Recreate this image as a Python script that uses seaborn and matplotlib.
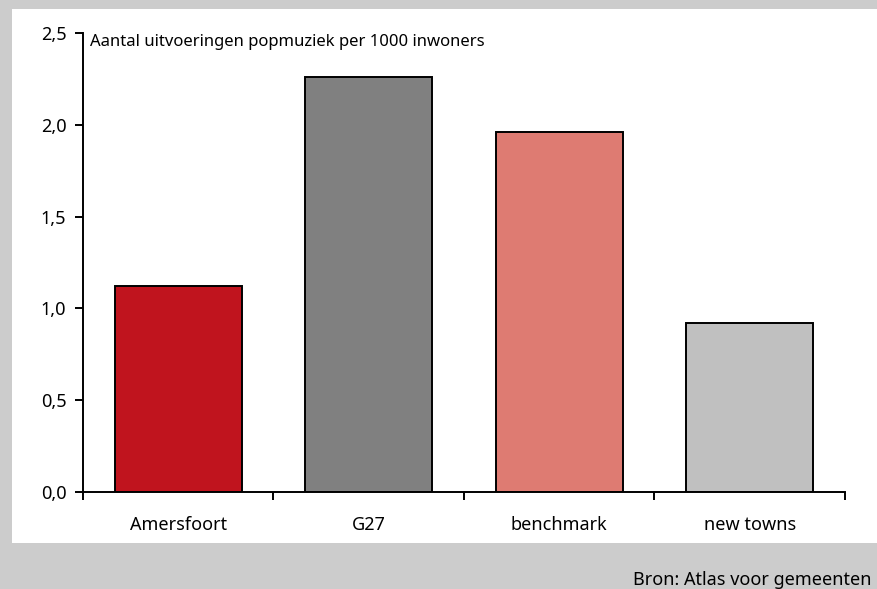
import matplotlib
matplotlib.use("Agg")
import matplotlib.pyplot as plt
import matplotlib.patches as mpatches
from matplotlib.ticker import FixedLocator, FuncFormatter
import pandas as pd
import seaborn as sns

categories = ["Amersfoort", "G27", "benchmark", "new towns"]
values = [1.12, 2.26, 1.96, 0.92]
colours = ["#c0141e", "#808080", "#de7b72", "#c0c0c0"]
title = "Aantal uitvoeringen popmuziek per 1000 inwoners"
source = "Bron: Atlas voor gemeenten"

sns.set_style("white")
plt.rcParams["font.family"] = ["Noto Sans", "DejaVu Sans"]

df = pd.DataFrame({"cat": categories, "val": values})

fig = plt.figure(figsize=(8.78, 5.89), dpi=100, facecolor="#cccccc")
# white panel on grey frame
fig.patches.append(mpatches.Rectangle((12 / 878, 46 / 589), 1, (580 - 46) / 589,
                                      transform=fig.transFigure, facecolor="white",
                                      edgecolor="none", zorder=-10))
ax = fig.add_axes([83 / 878, 97 / 589, 762 / 878, 459 / 589])
ax.set_facecolor("none")

sns.barplot(data=df, x="cat", y="val", hue="cat", palette=colours, legend=False,
            saturation=1, width=0.667, edgecolor="black", linewidth=1.4, ax=ax)

ax.set_xlim(-0.5, 3.5)
ax.set_ylim(0, 2.5)
ax.set_xlabel(None)
ax.set_ylabel(None)
for s in ["top", "right"]:
    ax.spines[s].set_visible(False)
for s in ["left", "bottom"]:
    ax.spines[s].set_color("black")
    ax.spines[s].set_linewidth(1.4)

ax.xaxis.set_major_locator(FixedLocator([-0.5, 0.5, 1.5, 2.5, 3.5]))
ax.xaxis.set_major_formatter(FuncFormatter(lambda v, p: ""))
ax.xaxis.set_minor_locator(FixedLocator([0, 1, 2, 3]))
ax.set_xticklabels(categories, minor=True)
ax.tick_params(axis="x", which="major", bottom=True, direction="out", length=6,
               width=1.4, color="black")
ax.tick_params(axis="x", which="minor", bottom=True, length=0, pad=17,
               labelsize=13, labelcolor="black")
ax.set_yticks([0, 0.5, 1.0, 1.5, 2.0, 2.5])
ax.yaxis.set_major_formatter(FuncFormatter(lambda v, p: f"{v:.1f}".replace(".", ",")))
ax.tick_params(axis="y", left=True, direction="out", length=6, width=1.4, color="black",
               labelsize=13, labelcolor="black", pad=6)

fig.text(90 / 878, 547 / 589, title, fontsize=12, va="center", color="black")
fig.text(872 / 878, 9 / 589, source, fontsize=13, ha="right", va="center", color="black")

plt.savefig("out.png", dpi=100, facecolor=fig.get_facecolor())
